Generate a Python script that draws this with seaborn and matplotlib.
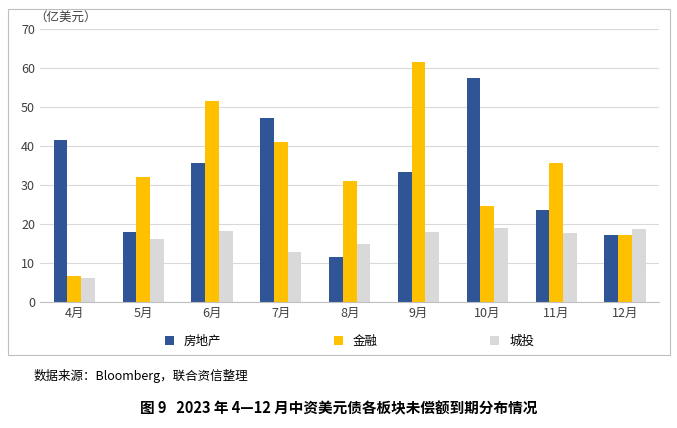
import matplotlib
matplotlib.use("Agg")
import matplotlib.pyplot as plt
import seaborn as sns
import pandas as pd
from matplotlib.patches import Rectangle

months = ["4月", "5月", "6月", "7月", "8月", "9月", "10月", "11月", "12月"]
series_names = ["房地产", "金融", "城投"]
real_estate = [41.5, 18.0, 35.5, 47.0, 11.5, 33.3, 57.3, 23.5, 17.0]
finance = [6.5, 32.0, 51.5, 41.0, 31.0, 61.5, 24.5, 35.5, 17.2]
lgfv = [6.0, 16.2, 18.2, 12.8, 14.8, 17.8, 19.0, 17.5, 18.7]

plt.rcParams["font.family"] = ["Noto Sans CJK SC"]
df = pd.DataFrame({"月份": months * 3,
                   "类别": sum([[s] * len(months) for s in series_names], []),
                   "值": real_estate + finance + lgfv})

fig = plt.figure(figsize=(6.77, 4.28), dpi=100)
ax = fig.add_axes([0.059, 0.295, 0.915, 0.638])
sns.barplot(data=df, x="月份", y="值", hue="类别", ax=ax,
            palette=["#2F5597", "#FFC000", "#D9D9D9"], width=0.6, gap=0.0,
            saturation=1)
ax.set_ylim(0, 70)
ax.set_yticks(range(0, 71, 10))
ax.grid(axis="y", color="#D9D9D9", lw=0.8)
ax.set_axisbelow(True)
for s in ["top", "right", "left"]:
    ax.spines[s].set_visible(False)
ax.spines["bottom"].set_color("#BFBFBF")
ax.tick_params(length=0, labelsize=9, colors="#404040")
ax.set_xlabel("")
ax.set_ylabel("")
fig.text(0.05, 0.945, "（亿美元）", fontsize=9, color="#404040", va="bottom")
ax.legend(loc="upper center", bbox_to_anchor=(0.5, -0.08), ncol=3, frameon=False,
          fontsize=9, columnspacing=9, handlelength=0.7, handleheight=0.7)
fig.patches.append(Rectangle((0.012, 0.17), 0.978, 0.81, transform=fig.transFigure,
                             fill=False, edgecolor="#BFBFBF", lw=0.8))
fig.text(0.05, 0.112, "数据来源：Bloomberg，联合资信整理", fontsize=9)
fig.text(0.5, 0.035, "图 9   2023 年 4—12 月中资美元债各板块未偿额到期分布情况",
         fontsize=10.5, fontweight="bold", ha="center")
fig.savefig("out.png", dpi=100)
